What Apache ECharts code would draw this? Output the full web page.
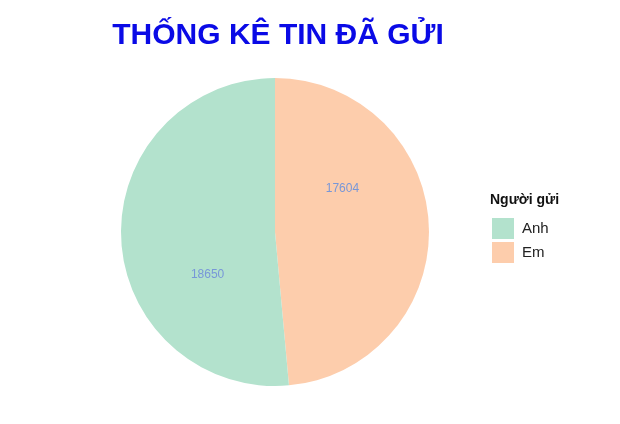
<!DOCTYPE html>
<head>
    <meta charset="utf-8">
    <title>ECharts</title>
    <style>
        html, body { margin: 0; padding: 0; background: #fff; }
    </style>
</head>
<body>
    <div id="main" style="width:620px;height:424px"></div>
    <script src="https://cdn.jsdelivr.net/npm/echarts@6/dist/echarts.min.js"></script>
    <script type="text/javascript">
        // du lieu doc tu hinh
        var senders = ['Anh', 'Em'];
        var messages = [18650, 17604];
        var colors = ['#b3e2cd', '#fdcdac'];

        // tam va ban kinh cua hinh tron
        var cx = 275, cy = 232, R = 154;
        // nhan bi xoay nguoc chieu kim dong ho khoang 30 do so voi giua lat cat
        var labelShift = -30 * Math.PI / 180;

        var myChart = echarts.init(document.getElementById('main'));

        // Em ve truoc, theo chieu kim dong ho tu dinh
        var pieData = [];
        for (var i = senders.length - 1; i >= 0; i--) {
            pieData.push({
                name: senders[i],
                value: messages[i],
                itemStyle: { color: colors[i] }
            });
        }

        var option = {
            animation: false,
            textStyle: { fontFamily: 'Liberation Sans, Arial, sans-serif' },
            title: [
                {
                    text: 'THỐNG KÊ TIN ĐÃ GỬI',
                    left: 278,
                    top: 21,
                    padding: 0,
                    textAlign: 'center',
                    textStyle: {
                        color: '#0a0ae6',
                        fontSize: 30,
                        fontWeight: 'bold',
                        fontFamily: 'Liberation Sans, Arial, sans-serif'
                    }
                },
                {
                    text: 'Người gửi',
                    left: 490,
                    top: 193,
                    padding: 0,
                    textStyle: {
                        color: '#111',
                        fontSize: 14,
                        fontWeight: 'bold',
                        fontFamily: 'Liberation Sans, Arial, sans-serif'
                    }
                }
            ],
            legend: {
                data: senders,
                orient: 'vertical',
                left: 492,
                top: 218,
                padding: 0,
                itemWidth: 22,
                itemHeight: 21,
                itemGap: 3,
                icon: 'rect',
                selectedMode: false,
                textStyle: {
                    color: '#222',
                    fontSize: 15,
                    padding: [3, 0, 0, 3]
                }
            },
            series: [
                {
                    type: 'pie',
                    center: [cx, cy],
                    radius: [0, R],
                    startAngle: 90,
                    clockwise: true,
                    avoidLabelOverlap: false,
                    emphasis: { disabled: true },
                    label: {
                        show: true,
                        position: 'inside',
                        formatter: '{c}',
                        color: '#7897d8',
                        fontSize: 12
                    },
                    labelLayout: function (params) {
                        var r = params.labelRect;
                        var dx = r.x + r.width / 2 - cx;
                        var dy = r.y + r.height / 2 - cy;
                        var c = Math.cos(labelShift), s = Math.sin(labelShift);
                        return {
                            x: cx + dx * c - dy * s,
                            y: cy + dx * s + dy * c,
                            align: 'center',
                            verticalAlign: 'middle'
                        };
                    },
                    labelLine: { show: false },
                    data: pieData
                }
            ]
        };

        myChart.setOption(option);
    </script>
</body>
